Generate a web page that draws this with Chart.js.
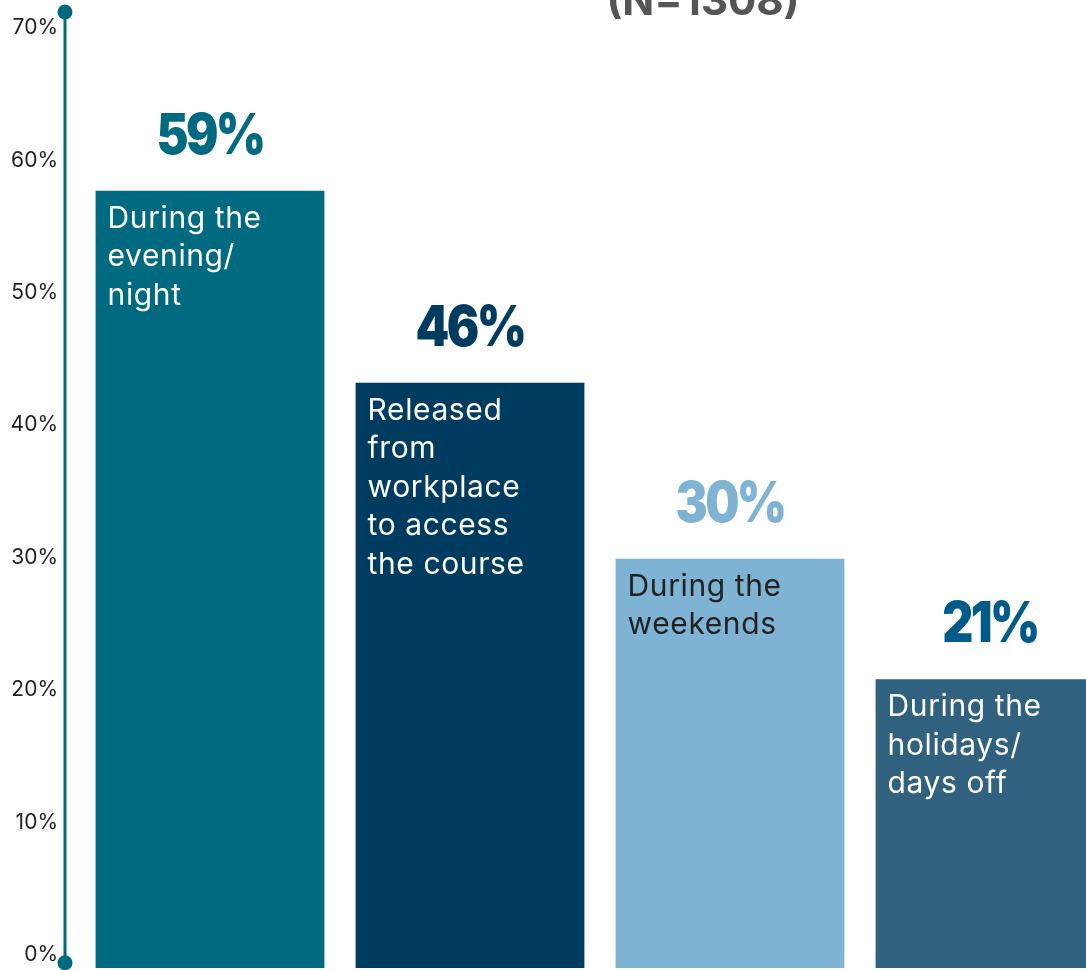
<!DOCTYPE html>
<html>
<head>
<meta charset="utf-8">
<script src="https://cdn.jsdelivr.net/npm/chart.js@4.4.0/dist/chart.umd.min.js"></script>
<style>
  html, body { margin: 0; padding: 0; background: #fff; }
  #frame { width: 1086px; height: 970px; overflow: hidden; position: relative; }
  #box { width: 1120px; height: 970px; position: relative; }
</style>
</head>
<body>
<div id="frame"><div id="box"><canvas id="timeChart"></canvas></div></div>
<script>
// data
const categories = [
    ['During the', 'evening/', 'night'],
    ['Released', 'from', 'workplace', 'to access', 'the course'],
    ['During the', 'weekends'],
    ['During the', 'holidays/', 'days off']
];
const barValues = [57.7, 43.2, 29.9, 20.8];   // bar heights on the drawn axis
const pctLabels = ['59%', '46%', '30%', '21%']; // printed labels
const tickValues = [0, 10, 20, 30, 40, 50, 60, 70];
const titleText = '(N=1308)';

const barColors = ['#006a81', '#003c5f', '#7fb3d4', '#30617f'];
const pctColors = ['#006a81', '#003c5f', '#7fb3d4', '#005a8a'];
const textColors = ['#ffffff', '#ffffff', '#222222', '#ffffff'];
const axisColor = '#00697f';
const yMin = -1, yMax = 71.2;

const decorPlugin = {
    id: 'decor',
    afterDatasetsDraw(chart) {
        const ctx = chart.ctx;
        const y = chart.scales.y;
        const area = chart.chartArea;
        ctx.save();

        // axis line with round ends
        const ax = area.left - 15;
        const top = area.top;
        const bottom = y.getPixelForValue(-0.6);
        ctx.strokeStyle = axisColor;
        ctx.lineWidth = 3;
        ctx.beginPath();
        ctx.moveTo(ax, top);
        ctx.lineTo(ax, bottom);
        ctx.stroke();
        ctx.fillStyle = axisColor;
        [top, bottom].forEach(py => {
            ctx.beginPath();
            ctx.arc(ax, py, 7.5, 0, Math.PI * 2);
            ctx.fill();
        });

        // labels on and above bars
        const meta = chart.getDatasetMeta(0);
        meta.data.forEach((bar, i) => {
            const left = bar.x - bar.width / 2;
            ctx.save();
            ctx.translate(bar.x, bar.y - 54);
            ctx.scale(0.86, 1);
            ctx.textAlign = 'center';
            ctx.textBaseline = 'middle';
            ctx.font = '900 56px Inter, sans-serif';
            ctx.letterSpacing = '-3px';
            ctx.fillStyle = pctColors[i];
            ctx.fillText(pctLabels[i], 0, 0);
            ctx.restore();

            ctx.letterSpacing = '0.6px';
            ctx.textAlign = 'left';
            ctx.textBaseline = 'alphabetic';
            ctx.font = '400 30px Inter, sans-serif';
            ctx.fillStyle = textColors[i];
            categories[i].forEach((line, k) => {
                ctx.fillText(line, left + 12, bar.y + 37 + k * 38.5);
            });
        });

        // title, cut by the top edge
        ctx.letterSpacing = '0px';
        ctx.textAlign = 'center';
        ctx.textBaseline = 'alphabetic';
        ctx.font = 'bold 42px Inter, sans-serif';
        ctx.fillStyle = '#555555';
        ctx.fillText(titleText, 703, 15);
        ctx.restore();
    }
};

const ctx = document.getElementById('timeChart').getContext('2d');
const timeChart = new Chart(ctx, {
    type: 'bar',
    data: {
        labels: categories.map(c => c.join(' ')),
        datasets: [{
            data: barValues.map(v => [yMin, v]),
            backgroundColor: barColors,
            borderWidth: 0,
            categoryPercentage: 0.88,
            barPercentage: 1.0
        }]
    },
    options: {
        responsive: true,
        maintainAspectRatio: false,
        animation: false,
        layout: { padding: { top: 12, bottom: 2, left: 0, right: 0 } },
        plugins: {
            legend: { display: false },
            tooltip: { enabled: false }
        },
        scales: {
            x: { display: false },
            y: {
                min: yMin,
                max: yMax,
                afterBuildTicks: axis => { axis.ticks = tickValues.map(v => ({ value: v })); },
                afterFit: axis => {
                    axis.width = 80;
                    axis.paddingTop = 0;
                    axis.paddingBottom = 0;
                },
                grid: { display: false, drawTicks: false },
                border: { display: false },
                ticks: {
                    padding: 22,
                    color: '#222222',
                    font: { family: 'Inter, sans-serif', size: 21 },
                    callback: v => v + '%'
                }
            }
        }
    },
    plugins: [decorPlugin]
});
</script>
</body>
</html>
